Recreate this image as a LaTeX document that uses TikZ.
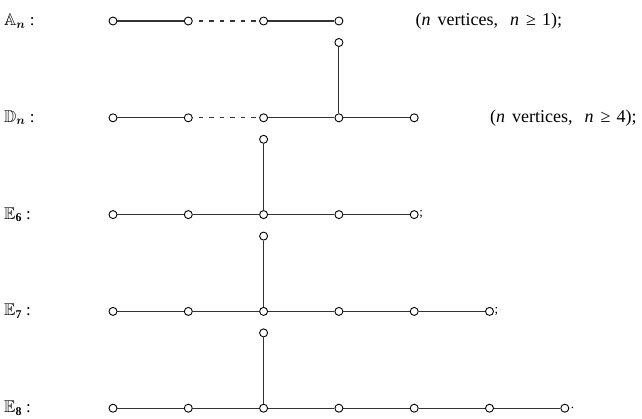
\documentclass[tikz,border=0pt]{standalone}
\usepackage{amssymb}
\usepackage{bm}
\usepackage{fontspec}
\setmainfont{Liberation Serif}
\definecolor{edgegrey}{HTML}{333333}
\begin{document}
\begin{tikzpicture}[x=1pt,y=-1pt,
  v/.style={circle,draw=black,fill=white,line width=0.9pt,minimum size=8pt,inner sep=0pt},
  edge/.style={draw=edgegrey,line width=1.1pt},
  dashedge/.style={edge,dash pattern=on 4.5pt off 6pt,dash phase=4.5pt},
  lbl/.style={anchor=west,inner sep=0pt,font=\fontsize{17}{20}\selectfont},
  note/.style={anchor=west,inner sep=0pt,font=\fontsize{18}{21}\selectfont},
  punct/.style={anchor=west,inner sep=0pt,font=\fontsize{13}{15}\selectfont}]
\useasboundingbox (0,0) rectangle (642,418);
\def\dx{75.3}
\def\rA{21}
\def\rD{117.8}
\def\rE{214.6}
\def\rF{311.4}
\def\rG{408.2}
% A_n
\foreach \i in {0,...,3} \node[v] (a\i) at ({113+\dx*\i},\rA) {};
\draw[edge] (a0) -- (a1);
\draw[dashedge] (a1) -- (a2);
\draw[edge] (a2) -- (a3);
\node[lbl] (la) at (4,\rA) {$\mathbb{A}_{\bm{n}}$ :};
\node[note] (na) at (415.5,\rA) {(\textit{n}\hspace{7pt}vertices,\hspace{12pt}\textit{n}\hspace{7pt}≥\hspace{6pt}1);};
% D_n
\foreach \i in {0,...,4} \node[v] (d\i) at ({113+\dx*\i},\rD) {};
\node[v] (db) at ({113+\dx*3},{\rD-\dx}) {};
\draw[edge] (d0) -- (d1);
\draw[dashedge] (d1) -- (d2);
\draw[edge] (d2) -- (d3);
\draw[edge] (d3) -- (d4);
\draw[edge] (db) -- (d3);
\node[lbl] (ld) at (4,\rD) {$\mathbb{D}_{\bm{n}}$ :};
\node[note] (nd) at (490,\rD) {(\textit{n}\hspace{7pt}vertices,\hspace{12pt}\textit{n}\hspace{7pt}≥\hspace{6pt}4);};
% E_6
\foreach \i in {0,...,4} \node[v] (e\i) at ({113+\dx*\i},\rE) {};
\node[v] (eb) at ({113+\dx*2},{\rE-\dx}) {};
\draw[edge] (e0) -- (e1);
\draw[edge] (e1) -- (e2);
\draw[edge] (e2) -- (e3);
\draw[edge] (e3) -- (e4);
\draw[edge] (eb) -- (e2);
\node[lbl] (le) at (4,\rE) {$\mathbb{E}_{\mathbf{6}}$ :};
\node[punct] (pe) at ([xshift=0.5pt]e4.east) {;};
% E_7
\foreach \i in {0,...,5} \node[v] (f\i) at ({113+\dx*\i},\rF) {};
\node[v] (fb) at ({113+\dx*2},{\rF-\dx}) {};
\draw[edge] (f0) -- (f1);
\draw[edge] (f1) -- (f2);
\draw[edge] (f2) -- (f3);
\draw[edge] (f3) -- (f4);
\draw[edge] (f4) -- (f5);
\draw[edge] (fb) -- (f2);
\node[lbl] (lf) at (4,\rF) {$\mathbb{E}_{\mathbf{7}}$ :};
\node[punct] (pf) at ([xshift=0.5pt]f5.east) {;};
% E_8
\foreach \i in {0,...,6} \node[v] (g\i) at ({113+\dx*\i},\rG) {};
\node[v] (gb) at ({113+\dx*2},{\rG-\dx}) {};
\draw[edge] (g0) -- (g1);
\draw[edge] (g1) -- (g2);
\draw[edge] (g2) -- (g3);
\draw[edge] (g3) -- (g4);
\draw[edge] (g4) -- (g5);
\draw[edge] (g5) -- (g6);
\draw[edge] (gb) -- (g2);
\node[lbl] (lg) at (4,\rG) {$\mathbb{E}_{\mathbf{8}}$ :};
\node[punct] (pg) at ([xshift=1.5pt]g6.east) {.};
\end{tikzpicture}
\end{document}
